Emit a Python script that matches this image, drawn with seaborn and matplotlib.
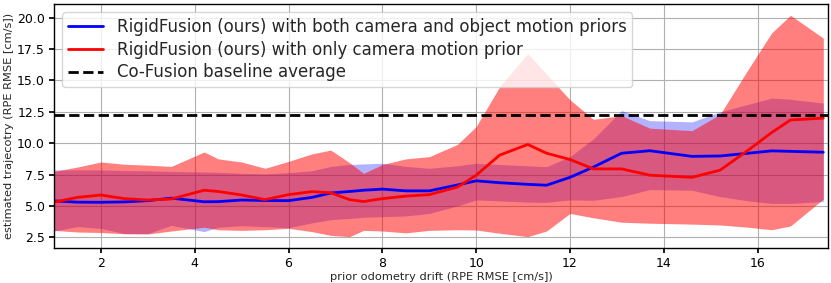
import numpy as np
import matplotlib
matplotlib.use("Agg")
import matplotlib.pyplot as plt
import seaborn as sns

# prior odometry drift (x) sampled along the curves
drift = [1.0, 1.5, 2.0, 2.5, 3.0, 3.5, 4.2, 4.5, 5.0, 5.5, 6.0, 6.5, 6.9, 7.3, 7.6, 8.0, 8.5,
         9.0, 9.6, 10.0, 10.5, 11.1, 11.5, 12.0, 12.5, 13.1, 13.7, 14.6, 15.2, 15.8, 16.3, 16.7, 17.4]

# both camera + object motion priors (blue)
both_mean = [5.4, 5.3, 5.29, 5.32, 5.42, 5.62, 5.33, 5.34, 5.47, 5.43, 5.42, 5.68, 6.03, 6.15, 6.25, 6.34, 6.2,
             6.2, 6.67, 7.0, 6.85, 6.72, 6.65, 7.28, 8.1, 9.2, 9.4, 8.95, 8.98, 9.2, 9.39, 9.35, 9.28]
both_upper = [7.87, 7.87, 7.87, 7.82, 7.8, 7.75, 7.7, 7.68, 7.6, 7.55, 7.65, 7.8, 8.15, 8.3, 8.35, 8.4, 8.15,
              8.0, 8.2, 8.4, 8.3, 8.2, 8.13, 8.93, 10.35, 12.6, 11.8, 11.7, 12.5, 13.1, 13.6, 13.5, 13.2]
both_lower = [3.0, 3.35, 3.2, 2.8, 2.8, 3.45, 2.95, 3.3, 3.42, 3.35, 3.26, 3.65, 3.9, 4.0, 4.1, 4.14, 4.2,
              4.4, 5.0, 5.48, 5.4, 5.3, 5.29, 5.48, 5.45, 5.75, 6.3, 6.25, 5.74, 5.4, 5.2, 5.2, 5.35]

# only camera motion prior (red)
cam_mean = [5.3, 5.68, 5.87, 5.58, 5.47, 5.55, 6.25, 6.15, 5.87, 5.5, 5.9, 6.14, 6.05, 5.5, 5.35, 5.58, 5.78,
            5.9, 6.5, 7.45, 9.05, 9.9, 9.2, 8.7, 7.95, 7.95, 7.45, 7.28, 7.85, 9.45, 10.85, 11.85, 12.0]
cam_upper = [7.75, 8.1, 8.5, 8.32, 8.25, 8.15, 9.3, 8.75, 8.5, 8.0, 8.55, 9.15, 9.45, 8.45, 7.6, 8.3, 8.75,
             8.93, 9.9, 11.33, 14.5, 17.15, 15.5, 13.46, 11.9, 12.2, 11.2, 11.0, 12.3, 15.9, 18.8, 20.2, 18.38]
cam_lower = [3.05, 2.92, 2.88, 2.78, 2.76, 3.0, 3.3, 3.1, 3.05, 3.1, 3.21, 2.95, 2.65, 2.55, 3.05, 3.0, 2.85,
             3.05, 3.1, 3.08, 2.82, 2.55, 3.0, 4.4, 4.05, 3.7, 3.62, 3.55, 3.48, 3.3, 3.1, 3.4, 5.55]

cofusion_avg = 12.26

sns.set_theme(style="whitegrid", rc={
    "axes.edgecolor": "black",
    "axes.linewidth": 1.0,
    "grid.color": "#b0b0b0",
    "grid.linewidth": 0.8,
    "xtick.major.size": 3.5,
    "ytick.major.size": 3.5,
    "xtick.bottom": True,
    "ytick.left": True,
    "xtick.color": "black",
    "ytick.color": "black",
})
plt.rcParams["font.family"] = ["DejaVu Sans"]

fig = plt.figure(figsize=(8.31, 2.83), dpi=100)
ax = fig.add_axes([0.065, 0.1226, 0.9314, 0.8633])

ax.fill_between(drift, both_lower, both_upper, color="blue", alpha=0.3, linewidth=0)
ax.fill_between(drift, cam_lower, cam_upper, color="red", alpha=0.5, linewidth=0)

sns.lineplot(x=drift, y=both_mean, color="blue", linewidth=2,
             label="RigidFusion (ours) with both camera and object motion priors", ax=ax)
sns.lineplot(x=drift, y=cam_mean, color="red", linewidth=2,
             label="RigidFusion (ours) with only camera motion prior", ax=ax)
ax.axhline(cofusion_avg, color="black", linestyle="--", linewidth=2, label="Co-Fusion baseline average")

ax.set_xlim(1, 17.5)
ax.set_ylim(1.62, 21.1)
ax.set_xticks([2, 4, 6, 8, 10, 12, 14, 16])
ax.set_yticks([2.5, 5.0, 7.5, 10.0, 12.5, 15.0, 17.5, 20.0])
ax.tick_params(labelsize=9, pad=3)
ax.set_xlabel("prior odometry drift (RPE RMSE [cm/s])", fontsize=8.2, labelpad=1)
ax.set_ylabel("estimated trajecotry (RPE RMSE [cm/s])", fontsize=8.2, labelpad=2)
ax.legend(loc="upper left", fontsize=12, framealpha=0.8, labelspacing=0.28,
          borderpad=0.35, handlelength=2.1)

fig.savefig("out.png", dpi=100)
